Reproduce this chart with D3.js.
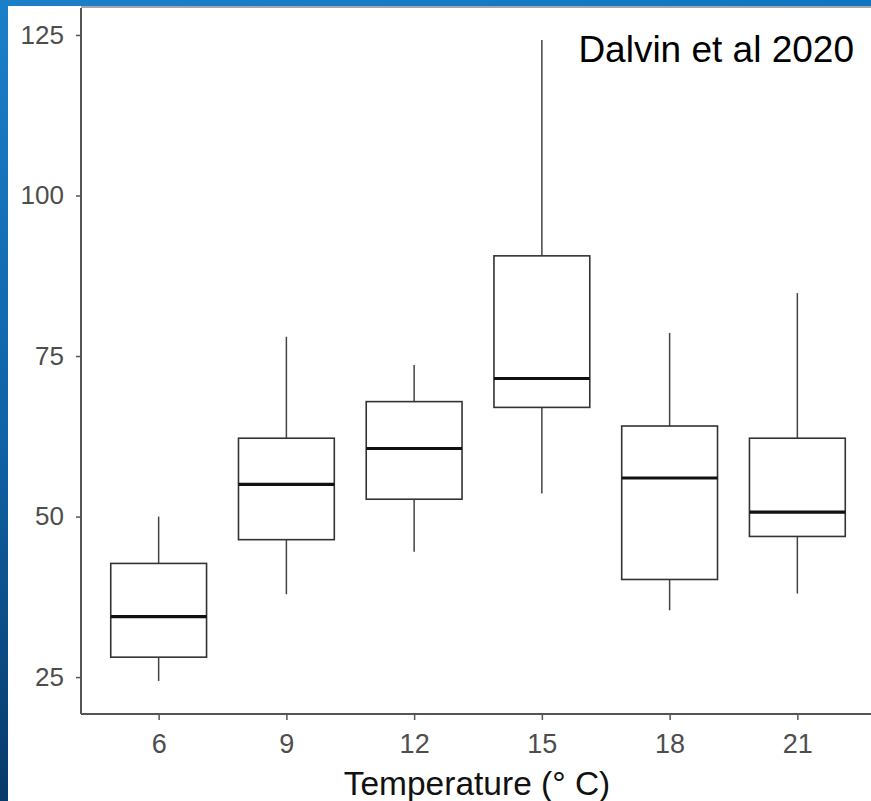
<!DOCTYPE html>
<html>
<head>
<meta charset="utf-8">
<script src="https://cdn.jsdelivr.net/npm/d3@7"></script>
<style>
  html, body { margin: 0; padding: 0; background: #ffffff; }
  svg { display: block; }
</style>
</head>
<body>
<svg id="chart" width="871" height="801"></svg>
<script>
// ---- data ----
const temps       = ["6", "9", "12", "15", "18", "21"];
const whiskerLow  = [24.4, 37.9, 44.5, 53.6, 35.4, 38.0];
const q1          = [28.1, 46.4, 52.7, 67.0, 40.2, 46.9];
const median      = [34.4, 55.0, 60.6, 71.5, 56.0, 50.7];
const q3          = [42.7, 62.2, 67.9, 90.6, 64.1, 62.2];
const whiskerHigh = [50.0, 78.0, 73.6, 124.2, 78.6, 84.8];
const yTicks      = [25, 50, 75, 100, 125];
const xTitle      = "Temperature (° C)";
const annotation  = "Dalvin et al 2020";

const boxes = temps.map((t, i) => ({
  t, lo: whiskerLow[i], q1: q1[i], med: median[i], q3: q3[i], hi: whiskerHigh[i]
}));

const W = 871, H = 801;
const svg = d3.select("#chart");
const FONT = "'Liberation Sans', Arial, Helvetica, sans-serif";

// background frame (blue strips)
const defs = svg.append("defs");
const gLeft = defs.append("linearGradient").attr("id", "gl")
  .attr("x1", 0).attr("y1", 0).attr("x2", 0).attr("y2", 1);
gLeft.append("stop").attr("offset", "0%").attr("stop-color", "#1b7fc9");
gLeft.append("stop").attr("offset", "55%").attr("stop-color", "#0f62a6");
gLeft.append("stop").attr("offset", "100%").attr("stop-color", "#083a6a");
const gTop = defs.append("linearGradient").attr("id", "gt")
  .attr("x1", 0).attr("y1", 0).attr("x2", 1).attr("y2", 0);
gTop.append("stop").attr("offset", "0%").attr("stop-color", "#1b80c9");
gTop.append("stop").attr("offset", "100%").attr("stop-color", "#0e76c0");

svg.append("rect").attr("x", 0).attr("y", 0).attr("width", W).attr("height", H).attr("fill", "#ffffff");
svg.append("rect").attr("x", 0).attr("y", 0).attr("width", W).attr("height", 6).attr("fill", "url(#gt)");
svg.append("rect").attr("x", 0).attr("y", 0).attr("width", 8).attr("height", H).attr("fill", "url(#gl)");

// panel
const panel = { left: 81, right: 874, top: 8, bottom: 714 };

const x = d3.scalePoint()
  .domain(temps)
  .range([panel.left + 1, panel.right])
  .padding(0.6);

const y = d3.scaleLinear()
  .domain([19.25, 129.2])
  .range([panel.bottom, panel.top]);

const boxW = x.step() * 0.75;

// top edge line
svg.append("line")
  .attr("x1", panel.left).attr("x2", W)
  .attr("y1", 7).attr("y2", 7)
  .attr("stroke", "#8a8a8a").attr("stroke-width", 1.5);

// boxes
const g = svg.append("g");
const bx = g.selectAll("g.box").data(boxes).join("g").attr("class", "box");

bx.append("line") // upper whisker
  .attr("x1", d => x(d.t)).attr("x2", d => x(d.t))
  .attr("y1", d => y(d.q3)).attr("y2", d => y(d.hi))
  .attr("stroke", "#444").attr("stroke-width", 1.5);
bx.append("line") // lower whisker
  .attr("x1", d => x(d.t)).attr("x2", d => x(d.t))
  .attr("y1", d => y(d.q1)).attr("y2", d => y(d.lo))
  .attr("stroke", "#444").attr("stroke-width", 1.5);
bx.append("rect")
  .attr("x", d => x(d.t) - boxW / 2)
  .attr("width", boxW)
  .attr("y", d => y(d.q3))
  .attr("height", d => y(d.q1) - y(d.q3))
  .attr("fill", "#ffffff")
  .attr("stroke", "#333").attr("stroke-width", 1.6);
bx.append("line") // median
  .attr("x1", d => x(d.t) - boxW / 2).attr("x2", d => x(d.t) + boxW / 2)
  .attr("y1", d => y(d.med)).attr("y2", d => y(d.med))
  .attr("stroke", "#111").attr("stroke-width", 3.2);

// axes
const yAxis = d3.axisLeft(y).tickValues(yTicks).tickSize(5).tickSizeOuter(0).tickPadding(12);
const yg = svg.append("g").attr("transform", `translate(${panel.left},0)`).call(yAxis);
yg.select(".domain").attr("stroke", "#555").attr("stroke-width", 2)
  .attr("d", `M0,${panel.top}V${panel.bottom}`);
yg.selectAll(".tick line").attr("stroke", "#555").attr("stroke-width", 1.5);
yg.selectAll(".tick text")
  .attr("font-family", FONT).attr("font-size", 26).attr("fill", "#4d4d4d");

const xAxis = d3.axisBottom(x).tickSize(6).tickSizeOuter(0).tickPadding(14);
const xg = svg.append("g").attr("transform", `translate(0,${panel.bottom})`).call(xAxis);
xg.select(".domain").attr("stroke", "#555").attr("stroke-width", 2.2)
  .attr("d", `M${panel.left},0H${W}`);
xg.selectAll(".tick line").attr("stroke", "#555").attr("stroke-width", 1.5);
xg.selectAll(".tick text")
  .attr("font-family", FONT).attr("font-size", 27).attr("fill", "#4d4d4d");

// axis title
svg.append("text")
  .attr("x", (panel.left + W) / 2 + 1)
  .attr("y", 795)
  .attr("text-anchor", "middle")
  .attr("font-family", FONT).attr("font-size", 33.5).attr("fill", "#111")
  .text(xTitle);

// annotation
svg.append("text")
  .attr("x", 854)
  .attr("y", 62)
  .attr("text-anchor", "end")
  .attr("font-family", FONT).attr("font-size", 37).attr("fill", "#000")
  .text(annotation);
</script>
</body>
</html>
